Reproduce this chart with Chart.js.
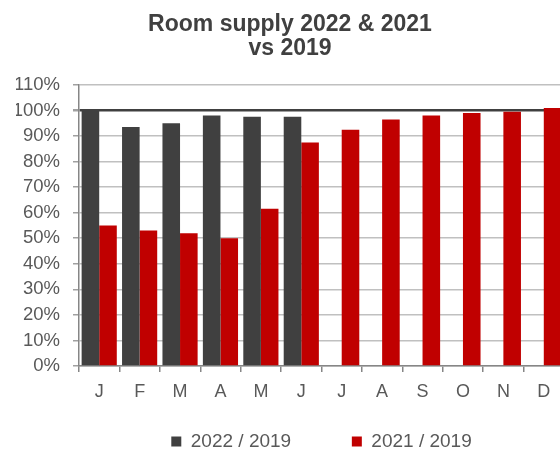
<!DOCTYPE html>
<html>
<head>
<meta charset="utf-8">
<script src="https://cdn.jsdelivr.net/npm/chart.js@4.4.1/dist/chart.umd.min.js"></script>
<style>
  html, body { margin: 0; padding: 0; overflow: hidden; background: #fff; }
  #wrap { width: 564px; height: 454px; }
</style>
</head>
<body>
<div id="wrap"><canvas id="supplyChart" width="564" height="454"></canvas></div>
<script>
const months = ['J', 'F', 'M', 'A', 'M', 'J', 'J', 'A', 'S', 'O', 'N', 'D'];
const supply2022 = [100, 93.5, 95, 98, 97.5, 97.5, null, null, null, null, null, null];
const supply2021 = [55, 53, 52, 50, 61.5, 87.5, 92.5, 96.5, 98, 99, 99.5, 101];
const seriesNames = ['2022 / 2019', '2021 / 2019'];
const titleLines = ['Room supply 2022 & 2021', 'vs 2019'];

const textGrey = '#595959';

const chart = new Chart(document.getElementById('supplyChart'), {
    type: 'bar',
    data: {
        labels: months,
        datasets: [{
            label: seriesNames[0],
            data: supply2022,
            backgroundColor: '#404040',
            borderWidth: 0
        }, {
            label: seriesNames[1],
            data: supply2021,
            backgroundColor: '#C00000',
            borderWidth: 0
        }]
    },
    options: {
        responsive: false,
        animation: false,
        layout: { padding: { left: 16, right: 0, top: 0, bottom: 0 } },
        datasets: {
            bar: { categoryPercentage: 0.87, barPercentage: 1 }
        },
        plugins: {
            title: {
                display: true,
                text: titleLines,
                color: '#404040',
                font: { family: 'Liberation Sans', size: 23, weight: 'bold', lineHeight: 1.02 },
                padding: { top: 13, bottom: 25 }
            },
            legend: {
                position: 'bottom',
                fullSize: false,
                maxHeight: 51,
                labels: {
                    color: textGrey,
                    font: { family: 'Liberation Sans', size: 19 },
                    boxWidth: 10,
                    boxHeight: 10,
                    padding: 29,
                    // widen the first entry so the second sits further right, as in the original
                    generateLabels: c => Chart.defaults.plugins.legend.labels.generateLabels(c).map((item, i) => {
                        if (i === 0) item.text += '      ';
                        return item;
                    })
                }
            },
            tooltip: { enabled: false }
        },
        scales: {
            x: {
                afterFit: scale => { scale.height = 37; },
                border: { color: '#868686', width: 1.5 },
                grid: {
                    drawOnChartArea: false,
                    color: '#868686',
                    lineWidth: 1.5,
                    tickLength: 6
                },
                ticks: {
                    color: textGrey,
                    font: { family: 'Liberation Sans', size: 18 },
                    padding: 9
                }
            },
            y: {
                min: 0,
                max: 110,
                afterFit: scale => { scale.width = 63; },
                border: { color: '#868686', width: 1.5 },
                grid: {
                    color: c => c.tick && c.tick.value === 100 ? '#404040' : '#C0C0C0',
                    lineWidth: c => c.tick && c.tick.value === 100 ? 2.5 : 1.5,
                    tickColor: '#A0A0A0',
                    tickLength: 6
                },
                ticks: {
                    stepSize: 10,
                    autoSkip: false,
                    color: textGrey,
                    padding: 13,
                    font: { family: 'Liberation Sans', size: 18.5 },
                    callback: v => v + '%'
                }
            }
        }
    }
});
</script>
</body>
</html>
